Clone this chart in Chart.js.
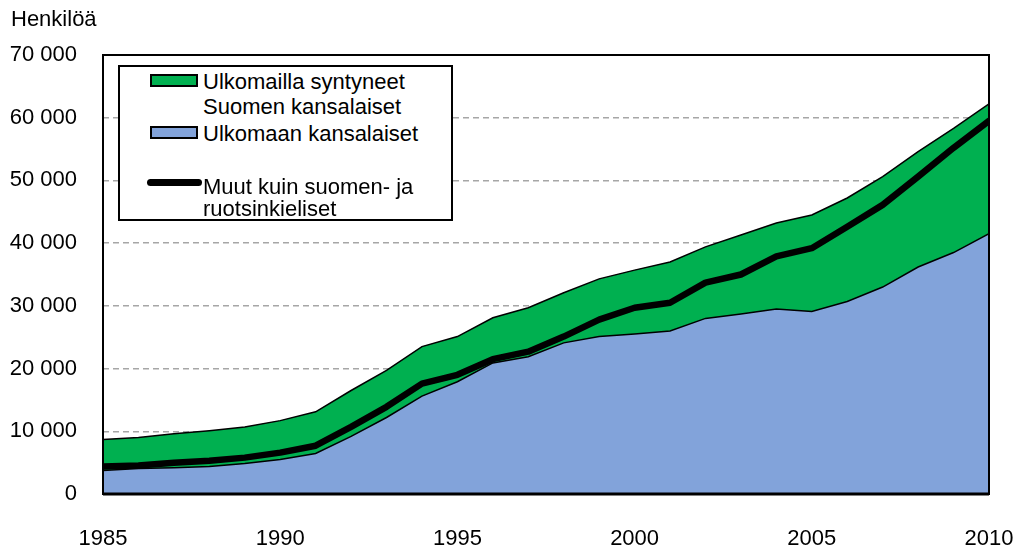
<!DOCTYPE html>
<html>
<head>
<meta charset="utf-8">
<script src="https://cdn.jsdelivr.net/npm/chart.js@4"></script>
<style>
  body { margin: 0; background: #fff; font-family: "Liberation Sans", Arial, sans-serif; }
  #wrap { position: relative; width: 1017px; height: 546px; }
  #unit { position: absolute; left: 11px; top: 6px; font-size: 22px; line-height: 26px; color: #000; }
  #legend { position: absolute; left: 118px; top: 65px; width: 335px; height: 156px;
            border: 2px solid #000; background: #fff; box-sizing: border-box; font-size: 22px; color: #000; }
  .sw { position: absolute; left: 30px; width: 48px; height: 13px; border: 2px solid #000; box-sizing: border-box; }
  .ln { position: absolute; left: 27px; width: 55px; height: 7px; background: #000; border-radius: 3.5px; }
  .tx { position: absolute; left: 83px; line-height: 26px; white-space: nowrap; }
</style>
</head>
<body>
<div id="wrap">
  <canvas id="chart" width="1017" height="546"></canvas>
  <div id="unit">Henkilöä</div>
  <div id="legend">
    <div class="sw" style="top:7px;background:#00b050"></div>
    <div class="tx" style="top:2px">Ulkomailla syntyneet</div>
    <div class="tx" style="top:27px">Suomen kansalaiset</div>
    <div class="sw" style="top:59px;background:#82a3da"></div>
    <div class="tx" style="top:54px">Ulkomaan kansalaiset</div>
    <div class="ln" style="top:112px"></div>
    <div class="tx" style="top:107px">Muut kuin suomen- ja</div>
    <div class="tx" style="top:129px">ruotsinkieliset</div>
  </div>
</div>
<script>
const years = [1985, 1986, 1987, 1988, 1989, 1990, 1991, 1992, 1993, 1994, 1995, 1996, 1997,
               1998, 1999, 2000, 2001, 2002, 2003, 2004, 2005, 2006, 2007, 2008, 2009, 2010];
const bornAbroad = [8700, 9000, 9600, 10100, 10700, 11700, 13100, 16500, 19700, 23500, 25100, 28100, 29700,
                    32100, 34300, 35700, 37000, 39400, 41300, 43200, 44500, 47200, 50600, 54600, 58300, 62200];
const foreignCitizens = [3750, 4050, 4200, 4400, 4850, 5500, 6450, 9200, 12200, 15600, 17900, 20900, 21900,
                         24100, 25100, 25500, 26000, 28000, 28700, 29500, 29100, 30700, 33000, 36200, 38500, 41500];
const otherLanguages = [4400, 4550, 5000, 5300, 5800, 6600, 7700, 10700, 13900, 17600, 19000, 21500, 22700,
                        25100, 27800, 29700, 30500, 33700, 35000, 37900, 39200, 42600, 46100, 50600, 55200, 59500];
const xTicks = [1985, 1990, 1995, 2000, 2005, 2010];
const yTicks = [0, 10000, 20000, 30000, 40000, 50000, 60000, 70000];

const pts = arr => arr.map((v, i) => ({ x: years[i], y: v }));
const fmt = v => String(v).replace(/\B(?=(\d{3})+(?!\d))/g, ' ');

// frame round the plot area
const frame = {
  id: 'frame',
  afterDatasetsDraw(chart) {
    const a = chart.chartArea, c = chart.ctx;
    c.save();
    c.strokeStyle = '#000';
    c.lineWidth = 2;
    c.strokeRect(a.left, a.top, a.right - a.left, a.bottom - a.top);
    c.lineWidth = 3;
    c.beginPath(); c.moveTo(a.left, a.bottom); c.lineTo(a.right, a.bottom); c.stroke();
    c.restore();
  }
};

new Chart(document.getElementById('chart'), {
  type: 'line',
  data: {
    datasets: [
      { label: 'Muut kuin suomen- ja ruotsinkieliset', data: pts(otherLanguages), order: 0,
        borderColor: '#000', borderWidth: 6.5, fill: false, borderCapStyle: 'round', borderJoinStyle: 'round' },
      { label: 'Ulkomaan kansalaiset', data: pts(foreignCitizens), order: 1,
        borderColor: '#000', borderWidth: 1.5, backgroundColor: '#82a3da', fill: 'origin' },
      { label: 'Ulkomailla syntyneet Suomen kansalaiset', data: pts(bornAbroad), order: 2,
        borderColor: '#000', borderWidth: 1.5, backgroundColor: '#00b050', fill: 'origin' }
    ]
  },
  options: {
    responsive: false,
    animation: false,
    elements: { point: { radius: 0 }, line: { tension: 0 } },
    layout: { padding: { top: 55, right: 28, left: 0, bottom: 0 } },
    plugins: { legend: { display: false }, tooltip: { enabled: false } },
    scales: {
      x: {
        type: 'linear', min: 1985, max: 2010,
        afterFit: s => { s.height = 52; s.paddingLeft = 0; s.paddingRight = 0; },
        afterBuildTicks: s => { s.ticks = xTicks.map(v => ({ value: v })); },
        grid: { display: false, drawTicks: false },
        border: { display: false },
        ticks: { color: '#000', padding: 32, maxRotation: 0, font: { family: 'Liberation Sans', size: 22 }, callback: v => String(v) }
      },
      y: {
        min: 0, max: 70000,
        afterFit: s => { s.width = 103; s.paddingTop = 0; s.paddingBottom = 0; },
        afterBuildTicks: s => { s.ticks = yTicks.map(v => ({ value: v })); },
        grid: {
          drawTicks: false,
          color: ctx => (ctx.tick && (ctx.tick.value === 0 || ctx.tick.value === 70000)) ? 'rgba(0,0,0,0)' : '#a6a6a6',
          lineWidth: 1.5
        },
        border: { display: false, dash: [6, 4] },
        ticks: { color: '#000', padding: 26, font: { family: 'Liberation Sans', size: 22 }, callback: v => fmt(v) }
      }
    }
  },
  plugins: [frame]
});
</script>
</body>
</html>
